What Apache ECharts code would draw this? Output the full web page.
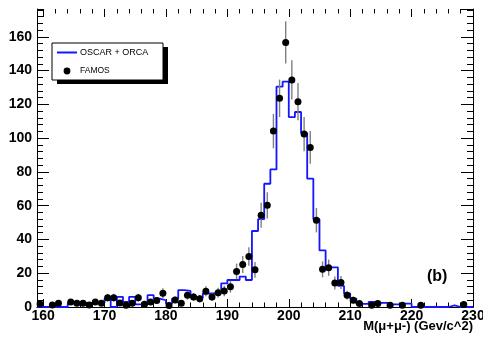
<!DOCTYPE html>
<html>
<head>
<meta charset="utf-8">
<script src="https://cdn.jsdelivr.net/npm/echarts@6/dist/echarts.min.js"></script>
<style>
  html, body { margin: 0; padding: 0; background: #fff; }
  #chart { width: 483px; height: 337px; }
</style>
</head>
<body>
<div id="chart"></div>
<script>
// 1 GeV bins, first bin starts at 159
const binLow = 159
const binWidth = 1

// OSCAR + ORCA histogram, one value per bin (159..229)
const oscarOrca = [
  0, 0, 0, 0, 0, 2, 2.5, 2.5, 2.5, 2.5,          // 159-168
  2.5, 5, 0, 6, 3, 6, 1.5, 1.5, 7, 5,            // 169-178
  4, 2, 5, 10, 9.5, 5.5, 5.5, 8, 8, 9,           // 179-188
  14, 16, 16, 18, 16, 45, 52, 73, 81.5, 130.5,   // 189-198
  133.5, 112.5, 115.5, 103, 76, 52, 33.5, 23.5, 23.5, 12.5, // 199-208
  8, 5, 1.8, 1.8, 3, 2.5, 2.5, 1.5, 1.5, 2,      // 209-218
  2, 0, 0, 0, 0, 0, 0, 1, 0, 0,                  // 219-228
  0                                              // 229
]

// FAMOS points at bin centres (null = empty bin, not drawn)
const famos = [
  1.8, null, 1.2, 2.2, null, 3, 2.2, 2.2, 1.2, 2.9,
  2.2, 5.5, 5.5, 2.4, 1.1, 2.2, 5.5, 1.6, 3, 3.8,
  8.2, 0.9, 4.2, 2.2, 6.9, 5.9, 4.9, 9.3, 5.9, 8.5,
  9.5, 12, 21.1, 25.2, 29.9, 22, 54.3, 60.2, 104.2, 123.6,
  156.7, 134.5, 121.6, 102.4, 94.5, 51.4, 22.3, 23.3, 14.2, 14.5,
  7, 4, 2, null, 1, 2, null, 1, null, 1,
  null, null, 1, null, null, null, null, null, null, 1.5,
  null
]

// FAMOS error bar half lengths
const famosErr = [
  1.3, null, 1.1, 1.5, null, 1.7, 1.5, 1.5, 1.1, 1.7,
  1.5, 2.3, 2.3, 1.5, 1, 1.5, 2.3, 1.3, 1.7, 1.9,
  2.9, 1, 2, 1.5, 2.6, 2.4, 2.2, 3, 2.4, 2.9,
  3.1, 3.5, 4.6, 5, 5.5, 4.7, 7.4, 7.8, 10.2, 11.1,
  12.5, 11.6, 11, 10.1, 9.7, 7.2, 4.7, 4.8, 3.8, 3.8,
  2.6, 2, 1.4, null, 1, 1.4, null, 1, null, 1,
  null, null, 1, null, null, null, null, null, null, 1.2,
  null
]

const xMin = 159
const xMax = 230
const yMax = 176.5
const xTitle = 'M(\u03bc+\u03bc-) (Gev/c^2)'
const seriesNames = ['OSCAR + ORCA', 'FAMOS']
const panelTag = '(b)'

const blue = '#1515ff'
const font = 'Liberation Sans, Arial, Helvetica, sans-serif'

// step line needs the right edge of the last bin too
const histData = oscarOrca.map((v, i) => [binLow + i * binWidth, v])
histData.push([binLow + oscarOrca.length * binWidth, oscarOrca[oscarOrca.length - 1]])

const famosData = []
famos.forEach((v, i) => {
  if (v == null) return
  famosData.push([binLow + (i + 0.5) * binWidth, v, famosErr[i]])
})

const chart = echarts.init(document.getElementById('chart'))

const gridBox = { top: 9, right: 10, bottom: 30 }
const plotLeft = 37
const plotWidth = 483 - plotLeft - gridBox.right
// second grid starts at the first labelled tick, only used for x ticks
const tickLeft = plotLeft + (160 - xMin) * plotWidth / (xMax - xMin)

const frameAxis = (pos) => ({
  type: 'value', gridIndex: 0, position: pos, min: xMin, max: xMax,
  axisLine: { show: true, lineStyle: { color: '#000', width: 1 } },
  axisTick: { show: false }, axisLabel: { show: false }, splitLine: { show: false }
})

const xTickAxis = (pos, labels) => ({
  type: 'value', gridIndex: 1, position: pos, min: 160, max: xMax, interval: 10,
  axisLine: { show: false },
  axisTick: { show: true, inside: true, length: 8, lineStyle: { color: '#000' } },
  minorTick: { show: true, splitNumber: 5, length: 4.5, lineStyle: { color: '#000' } },
  axisLabel: {
    show: labels, margin: 2, color: '#000', fontFamily: font,
    fontWeight: 'bold', fontSize: 14
  },
  splitLine: { show: false }
})

const yMajor = (pos, labels) => ({
  type: 'value', gridIndex: 0, position: pos, min: 0, max: yMax, interval: 20,
  axisLine: { show: true, lineStyle: { color: '#000', width: 1 } },
  axisTick: { show: true, inside: true, length: 12, lineStyle: { color: '#000' } },
  axisLabel: {
    show: labels, margin: 5, color: '#000', fontFamily: font,
    fontWeight: 'bold', fontSize: 14, showMaxLabel: false
  },
  splitLine: { show: false }
})

const yMinor = (pos) => ({
  type: 'value', gridIndex: 0, position: pos, min: 0, max: yMax, interval: 4,
  axisLine: { show: false },
  axisTick: { show: true, inside: true, length: 6, lineStyle: { color: '#000' } },
  axisLabel: { show: false }, splitLine: { show: false }
})

const option = {
  animation: false,
  backgroundColor: '#fff',
  grid: [
    { left: plotLeft, ...gridBox, outerBoundsMode: 'none' },
    { left: tickLeft, ...gridBox, outerBoundsMode: 'none' }
  ],
  xAxis: [
    frameAxis('bottom'),
    frameAxis('top'),
    xTickAxis('bottom', true),
    xTickAxis('top', false)
  ],
  yAxis: [
    yMajor('left', true),
    yMajor('right', false),
    yMinor('left'),
    yMinor('right'),
    { type: 'value', gridIndex: 1, min: 0, max: yMax, show: false }
  ],
  title: {
    text: panelTag, left: 422, top: 264,
    textStyle: { fontFamily: font, fontWeight: 'bold', fontSize: 16, color: '#000' }
  },
  series: [
    {
      name: seriesNames[0],
      type: 'line',
      step: 'end',
      xAxisIndex: 0, yAxisIndex: 0,
      data: histData,
      symbol: 'none',
      clip: true,
      lineStyle: { color: blue, width: 1.8 },
      z: 3
    },
    {
      name: seriesNames[1] + ' errors',
      type: 'custom',
      xAxisIndex: 0, yAxisIndex: 0,
      data: famosData,
      clip: true,
      renderItem: (params, api) => {
        const x = api.value(0)
        const y = api.value(1)
        const e = api.value(2)
        const lo = api.coord([x, Math.max(0, y - e)])
        const hi = api.coord([x, y + e])
        return {
          type: 'line',
          shape: { x1: lo[0], y1: lo[1], x2: hi[0], y2: hi[1] },
          style: { stroke: '#808080', lineWidth: 1.4 }
        }
      },
      z: 4
    },
    {
      name: seriesNames[1],
      type: 'scatter',
      xAxisIndex: 0, yAxisIndex: 0,
      data: famosData,
      symbol: 'circle',
      symbolSize: 7,
      itemStyle: { color: '#000', opacity: 1 },
      z: 5
    }
  ],
  graphic: [
    // x axis title, right aligned to the frame
    {
      type: 'text', right: 10, top: 320,
      style: { text: xTitle, font: 'bold 13px ' + font, fill: '#000' }
    },
    // legend box with ROOT style shadow
    { type: 'rect', shape: { x: 57, y: 47, width: 111, height: 37 }, style: { fill: '#000' } },
    {
      type: 'rect', shape: { x: 52, y: 43, width: 111, height: 37 },
      style: { fill: '#fff', stroke: '#000', lineWidth: 1 }
    },
    {
      type: 'line', shape: { x1: 57, y1: 52.5, x2: 77, y2: 52.5 },
      style: { stroke: blue, lineWidth: 2 }
    },
    {
      type: 'text', x: 80, y: 52.5,
      style: { text: seriesNames[0], font: '9px ' + font, fill: '#000', verticalAlign: 'middle' }
    },
    { type: 'circle', shape: { cx: 67, cy: 71, r: 3.4 }, style: { fill: '#000' } },
    {
      type: 'text', x: 80, y: 71,
      style: { text: seriesNames[1], font: '8.5px ' + font, fill: '#000', verticalAlign: 'middle' }
    }
  ]
}

chart.setOption(option)
</script>
</body>
</html>
